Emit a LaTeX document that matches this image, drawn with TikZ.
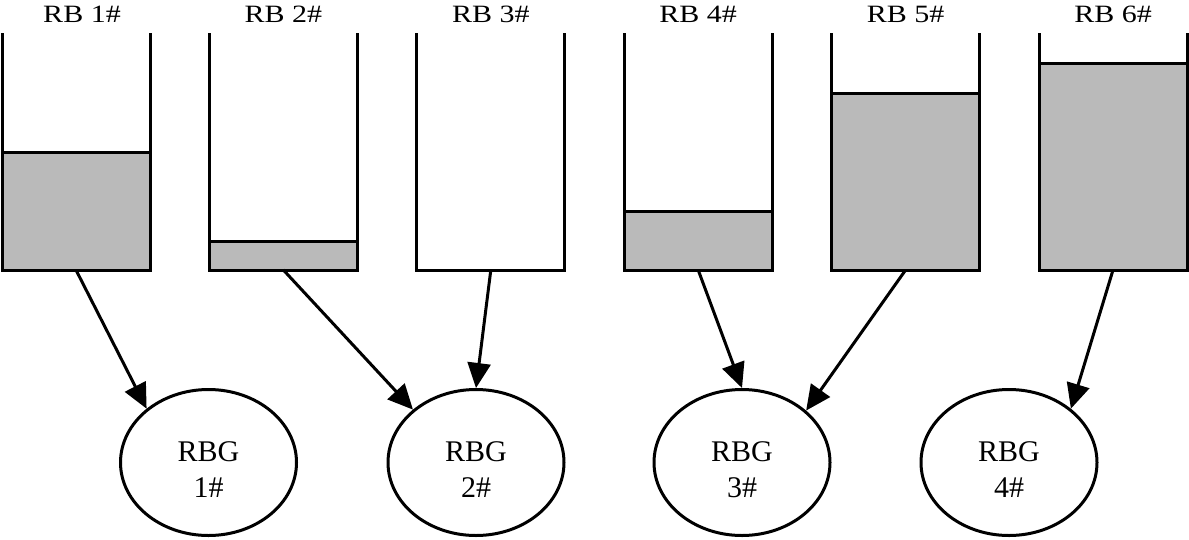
\documentclass[tikz,border=0pt]{standalone}
\usepackage{fontspec}
\setmainfont{Liberation Serif}
\usetikzlibrary{arrows.meta,shapes.geometric}
\definecolor{fillgray}{RGB}{186,186,186}
\begin{document}
\begin{tikzpicture}[x=1pt,y=-1pt,line width=3pt,
  bucket/.style={rectangle,minimum width=148pt,minimum height=237pt,inner sep=0pt,outer sep=0pt},
  level/.style={draw=black,fill=fillgray},
  wall/.style={draw=black},
  rblabel/.style={anchor=base,inner sep=0pt,font=\fontsize{30}{36}\selectfont},
  rbg/.style={ellipse,draw=black,minimum width=176pt,minimum height=146pt,inner sep=0pt},
  rbgtext/.style={align=center,inner sep=0pt,font=\fontsize{30}{36}\selectfont},
  link/.style={-{Triangle[length=25pt,width=23pt]},line width=3pt}]
\useasboundingbox (0,0) rectangle (1189,539);
% buckets
\foreach \i/\xl/\lx in {1/2/82,2/209.4/283.4,3/416.8/490.8,4/624.2/698.2,5/831.6/905.6,6/1039/1113}{
  \node[bucket] (rb\i) at (\xl+74,151.5) {};
  \node[rblabel] (lab\i) at (\lx,22) {\scalebox{1}[0.83]{RB \i\#}};
}
\foreach \i/\ft in {1/152,2/241,4/211,5/93,6/63}{
  \path[level] (rb\i.south west |- 0,\ft) rectangle (rb\i.south east);
}
\foreach \i in {1,...,6}{
  \draw[wall] (rb\i.south west |- 0,33) -- (rb\i.south west) -- (rb\i.south east) -- (rb\i.south east |- 0,33);
}
% groups
\foreach \i/\cx in {1/208.5,2/476,3/742,4/1009}{
  \node[rbg] (rbg\i) at (\cx,462.5) {};
  \node[rbgtext] (rbgt\i) at (\cx,470) {RBG\\\i\#};
}
% connectors
\draw[link] (rb1.south) -- (rbg1.139.5);
\draw[link] (rb2.south) -- (rbg2.140.6);
\draw[link] (rb3.south) -- (rbg2.90);
\draw[link] (rb4.south) -- (rbg3.90);
\draw[link] (rb5.south) -- (rbg3.39.1);
\draw[link] (rb6.south) -- (rbg4.41);
\end{tikzpicture}
\end{document}
